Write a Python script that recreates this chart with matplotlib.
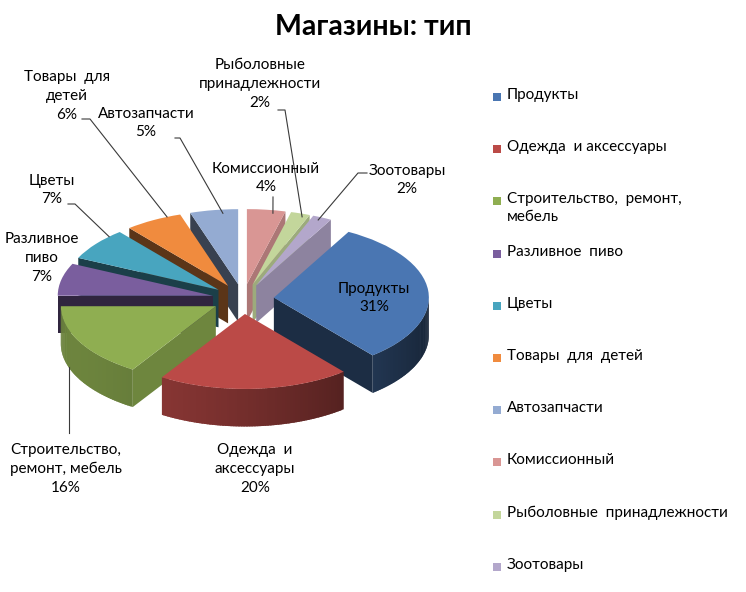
import numpy as np
import matplotlib.pyplot as plt
from matplotlib.patches import Wedge, Polygon, Rectangle
from matplotlib.colors import to_rgb

plt.rcParams['font.family'] = ['Lato', 'DejaVu Sans']

# data
names = ['Продукты', 'Одежда  и аксессуары', 'Строительство, ремонт, мебель',
         'Разливное пиво', 'Цветы', 'Товары для детей', 'Автозапчасти',
         'Комиссионный', 'Рыболовные принадлежности', 'Зоотовары']
legend_names = ['Продукты', 'Одежда  и аксессуары', 'Строительство,  ремонт,\nмебель',
                'Разливное  пиво', 'Цветы', 'Товары  для  детей', 'Автозапчасти',
                'Комиссионный', 'Рыболовные  принадлежности', 'Зоотовары']
label_names = ['Продукты', 'Одежда  и\nаксессуары', 'Строительство,\nремонт, мебель',
               'Разливное\nпиво', 'Цветы', 'Товары  для\nдетей', 'Автозапчасти',
               'Комиссионный', 'Рыболовные\nпринадлежности', 'Зоотовары']
shares = [31, 20, 16, 7, 7, 6, 5, 4, 2, 2]

top_colors = ['#4a76b2', '#bb4a47', '#8fae51', '#7a5e9e', '#48a5bf',
              '#f08b3e', '#94abd2', '#d99694', '#c3d69b', '#b3a7cb']

W, H = 746, 592
fig = plt.figure(figsize=(W / 100, H / 100), dpi=100)
ax = fig.add_axes([0, 0, 1, 1])
cx, cy, rx, ry = 243, 299, 155, 75
ax.set_xlim(-cx / rx, (W - cx) / rx)
ax.set_ylim((cy - H) / ry, cy / ry)
ax.axis('off')


def to_data(x, y):
    return (x - cx) / rx, (cy - y) / ry


def shade(col, k):
    return tuple(min(1, c * k) for c in to_rgb(col))


frac = np.array(shares) / sum(shares)
start = 61.2
t1s = start - 360 * np.cumsum(frac)
t2s = t1s + 360 * frac
explode = 0.2
depth = 0.5

centers = []
for t1, t2 in zip(t1s, t2s):
    m = np.radians((t1 + t2) / 2)
    centers.append((explode * np.cos(m), explode * np.sin(m)))

# walls, back slices first
order = np.argsort([-np.sin(np.radians((a + b) / 2)) for a, b in zip(t1s, t2s)])
for i in order:
    t1, t2 = t1s[i], t2s[i]
    ox, oy = centers[i]
    col = top_colors[i]
    # radial faces
    for t, n in [(t1, t1 - 90), (t2, t2 + 90)]:
        if np.sin(np.radians(n)) >= 0:
            continue
        k = 0.38 + 0.42 * max(0, np.cos(np.radians(n + 20))) ** 3
        px_, py_ = ox + np.cos(np.radians(t)), oy + np.sin(np.radians(t))
        ax.add_patch(Polygon([(ox, oy), (px_, py_), (px_, py_ - depth), (ox, oy - depth)],
                             closed=True, fc=shade(col, k), ec='none'))
    # outer wall, small overlapping pieces for a smooth shade
    ts = np.linspace(t1, t2, int(abs(t2 - t1)) + 2)
    for a, b in zip(ts[:-1], ts[1:]):
        if np.sin(np.radians((a + b) / 2)) >= 0:
            continue
        k = 0.52 + 0.24 * np.cos(np.radians((a + b) / 2 - 205))
        a0 = max(t1, a - 0.8)
        seg = np.radians(np.linspace(a0, b, 4))
        xs = ox + np.cos(seg)
        ys = oy + np.sin(seg)
        pts = list(zip(xs, ys)) + list(zip(xs[::-1], ys[::-1] - depth))
        ax.add_patch(Polygon(pts, closed=True, fc=shade(col, k), ec='none'))

# tops
for i in range(len(shares)):
    ax.add_patch(Wedge(centers[i], 1, t1s[i], t2s[i], fc=top_colors[i], ec='none'))

# data labels
label_xy = [(374, 298), (255, 469), (66, 469), (42, 258), (52, 190),
            (67, 96), (146, 123), (266, 178), (260, 84), (407, 180)]
# leader lines: (start px, knee px, fraction along slice, radius, on wall bottom)
leaders = {2: (None, None, 0.32, 1.0, True),
           4: ((68, 204), (75, 204), 0.21, 1.0, False),
           5: ((82, 119), (90, 119), 0.24, 1.0, False),
           6: ((175, 138), (180, 138), 0.33, 0.95, False),
           7: ((273, 197), None, 0.3, 0.96, False),
           8: ((278, 110), (285, 110), 0.3, 0.96, False),
           9: ((367, 173), (358, 173), 0.58, 0.96, False)}

for i, (name, v) in enumerate(zip(label_names, shares)):
    x, y = label_xy[i]
    fig.text(x / W, 1 - y / H, f'{name}\n{v}%', ha='center', va='center',
             fontsize=11, linespacing=1.45, color='#000000')
    if i in leaders:
        s, kn, f, r, bottom = leaders[i]
        t = np.radians(t1s[i] + f * (t2s[i] - t1s[i]))
        ex = centers[i][0] + r * np.cos(t)
        ey = centers[i][1] + r * np.sin(t) - (depth if bottom else 0)
        if s is None:
            pts = [(ex, to_data(0, 433)[1]), (ex, ey)]
        else:
            pts = [to_data(*s)]
            if kn is not None:
                pts.append(to_data(*kn))
            pts.append((ex, ey))
        pts = np.array(pts)
        ax.plot(pts[:, 0], pts[:, 1], color='#3a3a3a', lw=0.8)

# title
fig.text(373 / W, 1 - 27 / H, 'Магазины: тип', ha='center', va='center',
         fontsize=20.5, fontweight='bold')

# legend
for i, name in enumerate(legend_names):
    y = 97 + 52.2 * i
    fig.patches.append(Rectangle(((493) / W, 1 - (y + 4) / H), 8 / W, 8 / H,
                                 transform=fig.transFigure, fc=top_colors[i], ec='none'))
    fig.text(507 / W, 1 - (y - 9) / H, name, ha='left', va='top',
             fontsize=11, linespacing=1.35)

fig.savefig('out.png', dpi=100)
